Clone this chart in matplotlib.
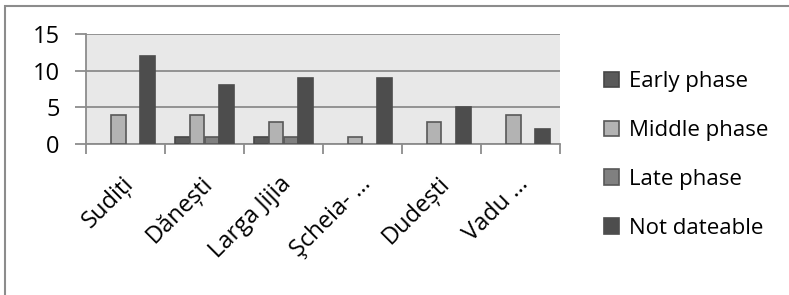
import numpy as np
import matplotlib.pyplot as plt
from matplotlib.patches import Rectangle, Patch

# data
sites = ["Sudiți", "Dănești", "Larga Jijia", "Şcheia- …", "Dudești", "Vadu …"]
series = ["Early phase", "Middle phase", "Late phase", "Not dateable"]
early = [0, 1, 1, 0, 0, 0]
middle = [4, 4, 3, 1, 3, 4]
late = [0, 1, 1, 0, 0, 0]
not_dateable = [12, 8, 9, 9, 5, 2]
yticks = [0, 5, 10, 15]

fills = ["#5a5a5a", "#b3b3b3", "#808080", "#4d4d4d"]
edges = ["#474747", "#585858", "#585858", "#4d4d4d"]

plt.rcParams['font.family'] = ['Open Sans', 'DejaVu Sans']

fig = plt.figure(figsize=(7.89, 2.95), dpi=100)
ax = fig.add_axes([86 / 789, 1 - 144 / 295, (560 - 86) / 789, (144 - 34) / 295])

x = np.arange(len(sites))
w = 0.187
for i, vals in enumerate([early, middle, late, not_dateable]):
    bars = ax.bar(x + (i - 1.5) * w, vals, w, color=fills[i], edgecolor=edges[i],
                  linewidth=1.2, zorder=3)
    # zero values draw nothing in the original
    for b, v in zip(bars, vals):
        if v == 0:
            b.set_visible(False)

ax.set_xlim(-0.5, len(sites) - 0.5)
ax.set_ylim(0, 15)
ax.set_yticks(yticks)
ax.set_yticklabels([str(t) for t in yticks], fontsize=17)
ax.set_facecolor("#e8e8e8")
ax.grid(axis="y", color="#8c8c8c", linewidth=1.3, zorder=1)
for s in ["top", "right"]:
    ax.spines[s].set_visible(False)
for s in ["left", "bottom"]:
    ax.spines[s].set_color("#8c8c8c")
    ax.spines[s].set_linewidth(1.3)

ax.set_xticks(np.arange(len(sites) + 1) - 0.5)
ax.set_xticklabels([])
ax.set_xticks(x - 0.05, minor=True)
ax.set_xticklabels(sites, minor=True, rotation=45, ha="right",
                   rotation_mode="anchor", fontsize=17)
ax.tick_params(axis="x", which="major", length=7, color="#8c8c8c", width=1.3)
ax.tick_params(axis="x", which="minor", length=0, pad=20)
ax.tick_params(axis="y", length=8, color="#8c8c8c", width=1.3, pad=11)

handles = [Patch(facecolor=f, edgecolor=e, linewidth=1.2) for f, e in zip(fills, edges)]
fig.legend(handles, series, loc="center left", bbox_to_anchor=(584 / 789, 1 - 155 / 295),
           frameon=False, fontsize=16, handlelength=0.68, handleheight=0.68,
           handletextpad=0.45, labelspacing=1.25)

# outer chart frame
fig.patches.append(Rectangle((5 / 789, -0.1), 1.2, 1 - 6 / 295 + 0.1, transform=fig.transFigure,
                             fill=False, edgecolor="#8c8c8c", linewidth=1.5))

fig.savefig("out.png", dpi=100)
